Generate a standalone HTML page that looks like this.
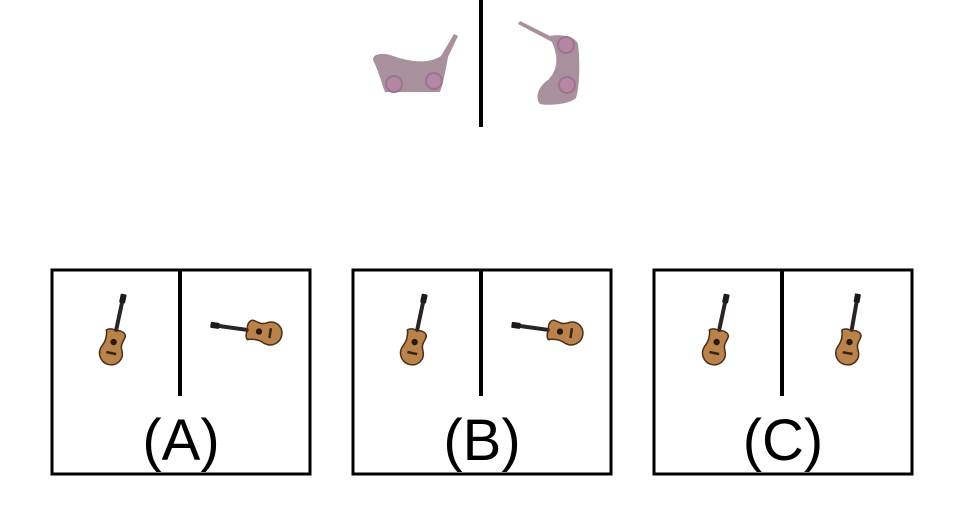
<!DOCTYPE html>
<html><head><meta charset="utf-8"><style>
html,body{margin:0;padding:0;background:#fff;}
svg{display:block;font-family:"Liberation Sans",sans-serif;}
</style></head><body>
<svg width="963" height="526" viewBox="0 0 963 526">
<defs>
<g id="guitar">
<rect x="-2" y="-46" width="4" height="34" fill="#2a2522"/>
<rect x="-3" y="-52" width="6" height="9" rx="1" fill="#1e1a18"/>
<path d="M-9,-12 C-12,-14 -4,-17 0,-14 C4,-17 12,-14 10,-9 C9,-4 7,-2 10,4 C14,12 8,20 0,20 C-8,20 -14,12 -11,4 C-8,-2 -8,-6 -9,-12 Z" fill="#b9834b" stroke="#4a2e18" stroke-width="1.5"/>
<circle cx="0" cy="-3" r="3.2" fill="#2a1a10"/>
<rect x="-5" y="7" width="10" height="2.5" fill="#3a2414"/>
</g>
</defs>

<g>
<rect x="479" y="0" width="4" height="127" fill="#000"/>
<g>
<path d="M448,57 L458,36 L454,34 L441,56 C425,66 405,60 390,55 C380,52 370,55 374,62 C380,75 382,85 385,92 L440,92 C444,80 446,68 448,57 Z" fill="#a8919c"/>
<circle cx="394" cy="84" r="8" fill="#b487a5" stroke="#9c7490" stroke-width="2"/>
<circle cx="434" cy="81" r="8" fill="#b487a5" stroke="#9c7490" stroke-width="2"/>
</g>
<g>
<path d="M518,24 L520,21 L550,36 C560,34 575,36 578,44 C580,60 580,85 576,98 C570,104 550,106 540,104 C534,96 540,85 548,80 C556,72 560,60 552,42 Z" fill="#a8919c"/>
<circle cx="566" cy="45" r="8" fill="#b487a5" stroke="#9c7490" stroke-width="2"/>
<circle cx="567" cy="85" r="8" fill="#b487a5" stroke="#9c7490" stroke-width="2"/>
</g>
</g>

<g>
<rect x="52" y="270" width="258" height="204" fill="none" stroke="#000" stroke-width="3"/>
<rect x="178" y="270" width="4" height="126" fill="#000"/>
<use href="#guitar" transform="translate(113,345) rotate(12)"/>
<use href="#guitar" transform="translate(262,332) rotate(-82)"/>
<text x="181" y="460" font-size="58" text-anchor="middle" fill="#000">(A)</text>
</g>

<g>
<rect x="353" y="270" width="258" height="204" fill="none" stroke="#000" stroke-width="3"/>
<rect x="479" y="270" width="4" height="126" fill="#000"/>
<use href="#guitar" transform="translate(414,345) rotate(12)"/>
<use href="#guitar" transform="translate(563,332) rotate(-82)"/>
<text x="482" y="460" font-size="58" text-anchor="middle" fill="#000">(B)</text>
</g>

<g>
<rect x="654" y="270" width="258" height="204" fill="none" stroke="#000" stroke-width="3"/>
<rect x="780" y="270" width="4" height="126" fill="#000"/>
<use href="#guitar" transform="translate(716,345) rotate(12)"/>
<use href="#guitar" transform="translate(849,345) rotate(10)"/>
<text x="783" y="460" font-size="58" text-anchor="middle" fill="#000">(C)</text>
</g>
</svg>
</body></html>
